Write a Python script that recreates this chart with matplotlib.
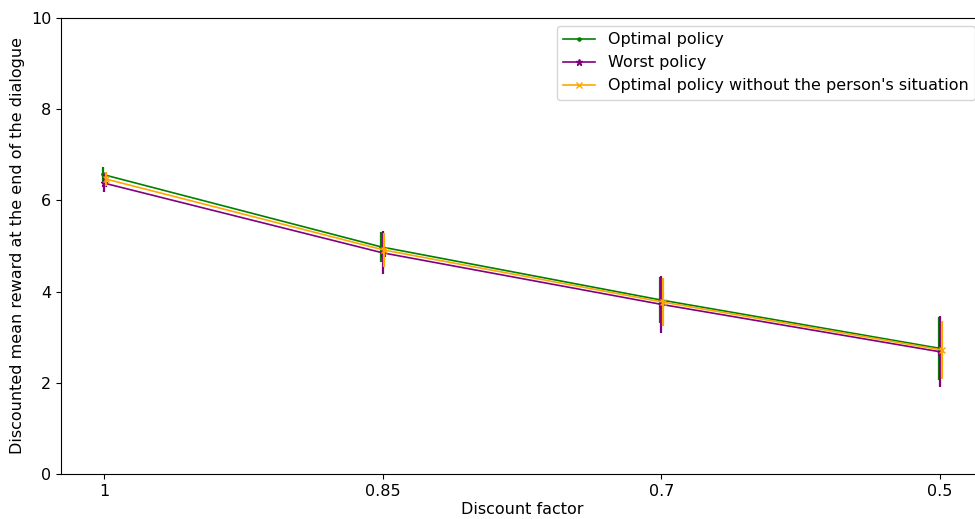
import matplotlib
matplotlib.use("Agg")
import matplotlib.pyplot as plt
import numpy as np

discount_labels = ["1", "0.85", "0.7", "0.5"]
optimal_mean = [6.57, 4.98, 3.82, 2.76]
optimal_err = [0.17, 0.33, 0.50, 0.69]
worst_mean = [6.38, 4.85, 3.72, 2.68]
worst_err = [0.20, 0.47, 0.62, 0.78]
nosit_mean = [6.47, 4.91, 3.77, 2.72]
nosit_err = [0.15, 0.38, 0.52, 0.63]

x = np.arange(len(discount_labels))
fs = 11.5

fig = plt.figure(figsize=(9.75, 5.19), dpi=100)
ax = fig.add_axes([61/975, 45/519, 922/975, 456/519])

series = [
    (x - 0.005, optimal_mean, optimal_err, "green", ".", "Optimal policy"),
    (x, worst_mean, worst_err, "purple", "*", "Worst policy"),
    (x + 0.006, nosit_mean, nosit_err, "orange", "x", "Optimal policy without the person's situation"),
]
for xs, m, e, c, mk, lab in series:
    ax.errorbar(xs, m, yerr=e, fmt="none", ecolor=c, elinewidth=1.6, capsize=0)
    ax.plot(xs, m, color=c, marker=mk, markersize=4.5, linewidth=1.2, label=lab)

ax.set_xticks(x)
ax.set_xticklabels(discount_labels)
ax.set_xlim(-0.154, 3.154)
ax.set_ylim(0, 10)
ax.tick_params(labelsize=fs)
ax.set_xlabel("Discount factor", fontsize=fs, labelpad=2)
ax.set_ylabel("Discounted mean reward at the end of the dialogue", fontsize=fs)
ax.legend(loc="upper right", fontsize=fs)

fig.savefig("out.png", dpi=100)
